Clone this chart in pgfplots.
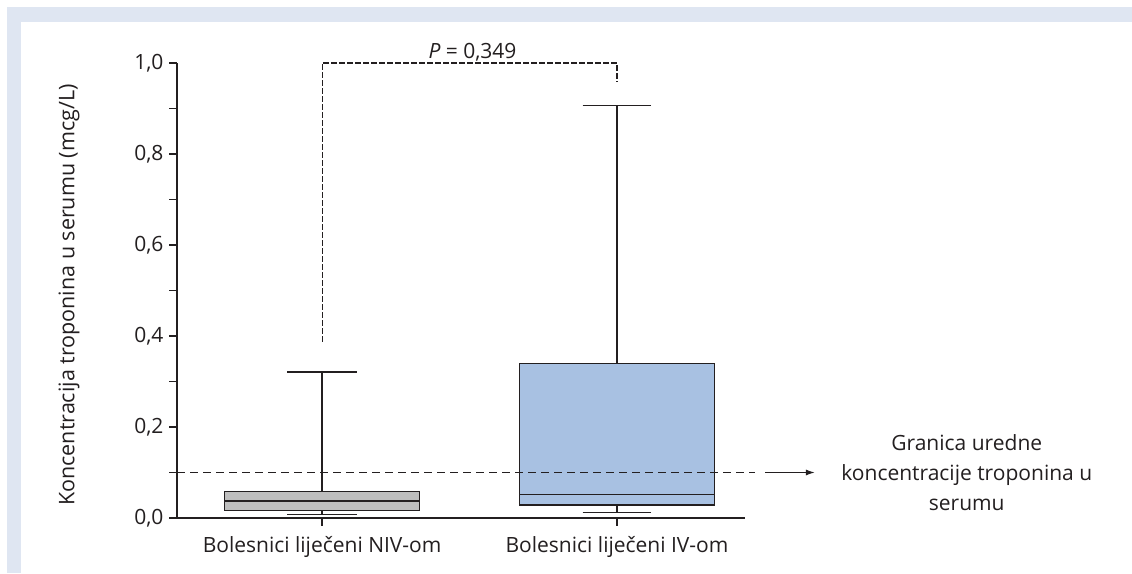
\documentclass[border=0pt]{standalone}
\usepackage{pgfplots}
\pgfplotsset{compat=1.18}
\usepgfplotslibrary{statistics}
\usetikzlibrary{arrows.meta}
\usepackage{fontspec}
\setmainfont{Open Sans}
\definecolor{framec}{RGB}{223,230,242}
\definecolor{ink}{RGB}{35,31,32}
\definecolor{boxblue}{RGB}{168,193,226}
\definecolor{boxgrey}{RGB}{190,190,190}
\newcommand{\lblfont}{\fontsize{21}{30}\selectfont}
\begin{document}
\begin{tikzpicture}[x=1pt,y=1pt]
\useasboundingbox (0,0) rectangle (1132,573);
\fill[white] (0,0) rectangle (1132,573);
\fill[framec] (7,0) rectangle (1132,566);
\fill[white] (21,0) rectangle (1132,551);
\begin{axis}[
  at={(177pt,55pt)}, anchor=south west,
  scale only axis, width=568pt, height=455pt,
  xmin=0.508, xmax=2.434, ymin=0, ymax=1,
  axis x line*=bottom, axis y line*=left,
  axis line style={ink, line width=1.4pt},
  xtick={1,2},
  xticklabels={Bolesnici liječeni NIV-om, Bolesnici liječeni IV-om},
  ytick={0,0.2,0.4,0.6,0.8,1.0},
  minor ytick={0.1,0.3,0.5,0.7,0.9},
  tick align=outside, major tick length=8pt, minor tick length=8pt,
  every tick/.style={ink, line width=1.4pt},
  minor tick style={ink, line width=1.4pt},
  tick label style={font=\lblfont, text=ink},
  xticklabel style={yshift=-7pt},
  yticklabel style={xshift=-2pt},
  /pgf/number format/assume math mode=true,
  /pgf/number format/use comma,
  /pgf/number format/fixed,
  /pgf/number format/fixed zerofill,
  /pgf/number format/precision=1,
  ylabel={Koncentracija troponina u serumu (mcg/L)},
  ylabel style={at={(axis description cs:-0.19,0.49)}, anchor=center, font=\fontsize{21.5}{30}\selectfont, text=ink},
  clip=false,
  boxplot/draw direction=y,
]
\addplot[draw=ink, fill=boxgrey, line width=1.4pt, solid,
  boxplot prepared={draw position=1, median=0.037, upper quartile=0.058,
    lower quartile=0.016, upper whisker=0.321, lower whisker=0.008,
    box extend=0.661, whisker extend=0.237}] coordinates {};
\addplot[draw=ink, fill=boxblue, line width=1.4pt, solid,
  boxplot prepared={draw position=2, median=0.052, upper quartile=0.340,
    lower quartile=0.0286, upper whisker=0.907, lower whisker=0.0125,
    box extend=0.661, whisker extend=0.233}] coordinates {};
% threshold line
\addplot[ink, line width=1.3pt, dash pattern=on 8pt off 5pt, mark=none]
  coordinates {(0.508,0.1) (2.468,0.1)};
\addplot[ink, line width=1.3pt, -{Latex[length=9pt,width=6pt]}, mark=none]
  coordinates {(2.502,0.1) (2.671,0.1)};
% bracket
\addplot[ink, line width=1.1pt, dash pattern=on 5.5pt off 2.5pt, mark=none]
  coordinates {(1,0.387) (1,1.0) (2,1.0) (2,0.96)};
\node[font=\lblfont, text=ink, anchor=base, yshift=4.6pt] at (axis cs:1.51,1.0) {\textit{P} = 0,349};
\node[font=\lblfont, text=ink, align=center] at (axis cs:3.186,0.1) {Granica uredne\\koncentracije troponina u\\serumu};
\end{axis}
\end{tikzpicture}
\end{document}
